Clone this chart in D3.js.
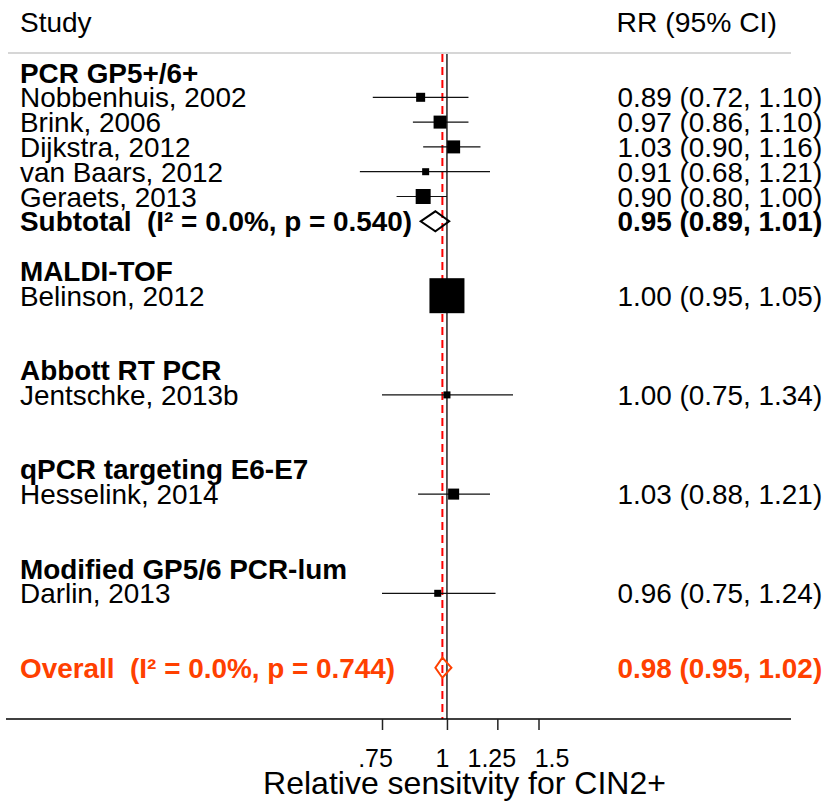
<!DOCTYPE html>
<html>
<head>
<meta charset="utf-8">
<script src="https://cdn.jsdelivr.net/npm/d3@7"></script>
<style>
  html, body { margin: 0; padding: 0; background: #fff; }
  svg { display: block; font-family: "Liberation Sans", Arial, sans-serif; }
</style>
</head>
<body>
<svg id="chart" width="827" height="802"></svg>
<script>
// ---------------- DATA ----------------
const groupNames = ["PCR GP5+/6+", "MALDI-TOF", "Abbott RT PCR", "qPCR targeting E6-E7", "Modified GP5/6 PCR-lum"];
const studyNames = ["Nobbenhuis, 2002", "Brink, 2006", "Dijkstra, 2012", "van Baars, 2012", "Geraets, 2013",
                    "Belinson, 2012", "Jentschke, 2013b", "Hesselink, 2014", "Darlin, 2013"];
const studyGroup = [0, 0, 0, 0, 0, 1, 2, 3, 4];
const studyRR    = [0.89, 0.97, 1.03, 0.91, 0.90, 1.00, 1.00, 1.03, 0.96];
const studyLo    = [0.72, 0.86, 0.90, 0.68, 0.80, 0.95, 0.75, 0.88, 0.75];
const studyHi    = [1.10, 1.10, 1.16, 1.21, 1.00, 1.05, 1.34, 1.21, 1.24];
const studyWeight = [3.8, 7.9, 7.9, 2.3, 10.5, 57.3, 2.3, 5.7, 2.3];

const subtotalGroup = [0];
const subtotalLabel = ["Subtotal  (I\u00B2 = 0.0%, p = 0.540)"];
const subtotalRR = [0.95];
const subtotalLo = [0.89];
const subtotalHi = [1.01];

const overallLabel = "Overall  (I\u00B2 = 0.0%, p = 0.744)";
const overallRR = [0.98];
const overallLo = [0.95];
const overallHi = [1.02];

const tickValues = [0.75, 1, 1.25, 1.5];
const tickLabels = [".75", "1", "1.25", "1.5"];
const axisTitle = "Relative sensitvity for CIN2+";
const headerLeft = "Study";
const headerRight = "RR (95% CI)";

// ---------------- LAYOUT ----------------
const svg = d3.select("#chart");
const orange = "#ff4000";
const fmt = d3.format(".2f");
const ciText = (r, l, h) => `${fmt(r)} (${fmt(l)}, ${fmt(h)})`;
const tickLabelNudge = [-7, -5, -6, 13];   // label placement quirk of the original

// Build row list: heading, studies, subtotal slot, blank per group, then overall
const rows = [];
groupNames.forEach((g, gi) => {
  rows.push({type: "heading", label: g});
  studyNames.forEach((s, si) => {
    if (studyGroup[si] === gi) rows.push({type: "study", idx: si});
  });
  const sub = subtotalGroup.indexOf(gi);
  rows.push(sub >= 0 ? {type: "subtotal", idx: sub} : {type: "blank"});
  rows.push({type: "blank"});
});
rows.push({type: "overall"});

const y = d3.scalePoint().domain(d3.range(rows.length)).range([72.5, 667.7]);
const x = d3.scaleLog().domain([0.75, 1.5]).range([382, 538.5]);
const size = d3.scaleSqrt().domain([0, d3.max(studyWeight)]).range([0, 35]);

const axisY = 719, topY = 53;
const leftX = 20, rightX = 617.5;
const fs = 27.9;

// header
svg.append("text").attr("x", leftX).attr("y", 32).attr("font-size", 28).text(headerLeft);
svg.append("text").attr("x", rightX - 1).attr("y", 32).attr("font-size", 28.3).text(headerRight);
svg.append("line").attr("x1", 8).attr("x2", 791).attr("y1", topY).attr("y2", topY)
   .attr("stroke", "#c8c8c8").attr("stroke-width", 1.5);

// reference lines
svg.append("line").attr("x1", x(1)).attr("x2", x(1)).attr("y1", topY + 1).attr("y2", axisY)
   .attr("stroke", "#000").attr("stroke-width", 1.3);
svg.append("line").attr("x1", x(overallRR[0])).attr("x2", x(overallRR[0])).attr("y1", topY + 1).attr("y2", axisY)
   .attr("stroke", "#ff0000").attr("stroke-width", 2).attr("stroke-dasharray", "8,5");

const g = svg.append("g");

rows.forEach((r, i) => {
  const cy = y(i);
  if (r.type === "heading") {
    g.append("text").attr("x", leftX).attr("y", cy + 10).attr("font-size", fs)
     .attr("font-weight", "bold").text(r.label);
  } else if (r.type === "study") {
    const k = r.idx;
    g.append("line").attr("x1", x(studyLo[k])).attr("x2", x(studyHi[k])).attr("y1", cy).attr("y2", cy)
     .attr("stroke", "#111").attr("stroke-width", 1.2);
    const s = size(studyWeight[k]);
    g.append("rect").attr("x", x(studyRR[k]) - s / 2).attr("y", cy - s / 2)
     .attr("width", s).attr("height", s).attr("fill", "#000");
    g.append("text").attr("x", leftX).attr("y", cy + 10).attr("font-size", fs).text(studyNames[k]);
    g.append("text").attr("x", rightX).attr("y", cy + 10).attr("font-size", fs)
     .text(ciText(studyRR[k], studyLo[k], studyHi[k]));
  } else if (r.type === "subtotal") {
    const k = r.idx;
    const pts = [[x(subtotalLo[k]), cy], [x(subtotalRR[k]), cy - 10], [x(subtotalHi[k]), cy], [x(subtotalRR[k]), cy + 10]];
    g.append("path").attr("d", d3.line()(pts) + "Z").attr("fill", "none")
     .attr("stroke", "#000").attr("stroke-width", 2);
    g.append("text").attr("x", leftX).attr("y", cy + 10).attr("font-size", fs)
     .attr("font-weight", "bold").style("white-space", "pre").text(subtotalLabel[k]);
    g.append("text").attr("x", rightX).attr("y", cy + 10).attr("font-size", fs)
     .attr("font-weight", "bold").text(ciText(subtotalRR[k], subtotalLo[k], subtotalHi[k]));
  } else if (r.type === "overall") {
    const pts = [[x(overallLo[0]), cy], [x(overallRR[0]), cy - 10], [x(overallHi[0]), cy], [x(overallRR[0]), cy + 10]];
    g.append("path").attr("d", d3.line()(pts) + "Z").attr("fill", "none")
     .attr("stroke", orange).attr("stroke-width", 2);
    g.append("text").attr("x", leftX).attr("y", cy + 10).attr("font-size", fs)
     .attr("font-weight", "bold").attr("fill", orange).style("white-space", "pre").text(overallLabel);
    g.append("text").attr("x", rightX).attr("y", cy + 10).attr("font-size", fs)
     .attr("font-weight", "bold").attr("fill", orange).text(ciText(overallRR[0], overallLo[0], overallHi[0]));
  }
});

// axis
svg.append("line").attr("x1", 6).attr("x2", 791).attr("y1", axisY).attr("y2", axisY)
   .attr("stroke", "#000").attr("stroke-width", 1.5);
const axis = d3.axisBottom(x).tickValues(tickValues).tickSize(11)
  .tickFormat((d, i) => tickLabels[i]);
const ag = svg.append("g").attr("transform", `translate(0,${axisY})`).call(axis);
ag.select(".domain").remove();
ag.selectAll(".tick line").attr("stroke", "#222").attr("stroke-width", 1.5);
ag.selectAll(".tick text").attr("y", 48).attr("dy", 0).attr("dx", (d, i) => tickLabelNudge[i])
  .attr("font-size", 25).attr("font-family", "Liberation Sans, Arial, sans-serif").attr("fill", "#000");

svg.append("text").attr("x", 464.5).attr("y", 794).attr("text-anchor", "middle")
   .attr("font-size", 32).text(axisTitle);
</script>
</body>
</html>
